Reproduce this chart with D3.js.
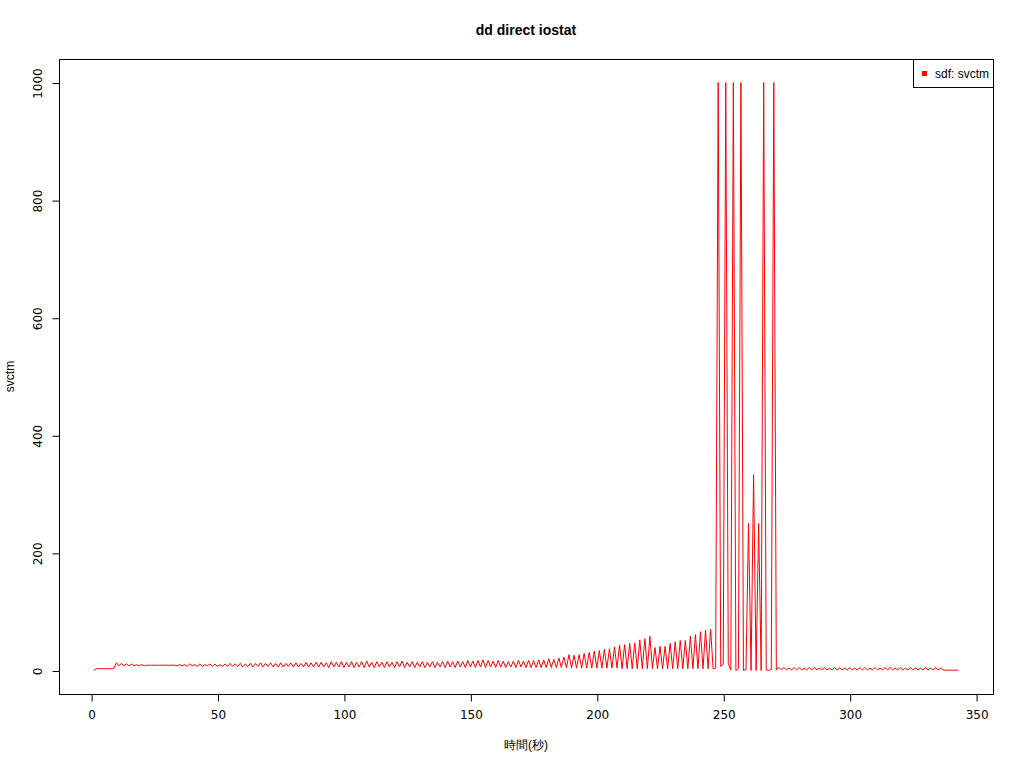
<!DOCTYPE html>
<html>
<head>
<meta charset="utf-8">
<script src="https://cdn.jsdelivr.net/npm/d3@7"></script>
<style>
  html, body { margin: 0; padding: 0; background: #fff; }
  svg { display: block; font-family: "Liberation Sans", Arial, sans-serif; }
</style>
</head>
<body>
<svg id="chart" width="1024" height="768"></svg>
<script>
// ---- data (seconds start at 1, one value per second) ----
const startSecond = 1;
const segStart = [0,3,3,3,3,3,3,3,3];                       // t 1-9
const segEarly = [13,8,12,8,11,8,11,8,10,8,10,8];           // t 10-21
const segFlat  = [9,9,8.8,9,9,8.8,9,9,9,8.8,9,9];           // t 22-33
const segLow   = [8,10,8,10,7,11,8,10,7,11,7,10,8,11,7,11,7,10,7,11,7,12,7,11,7,12,6,11,7,12,6,12,7,13,6,12,7,13,6,12,6,13,6,12,7,13,6,13,6,12,6,14,6,13,6,14]; // t 34-89
const segMid   = [6,14,6,13,5,15,6,14,6,15,5,14,6,15,5,14,6,15,5,16,6,14,5,15,6,14,5,15,6,14,5,15,6,16,5,14,6,15,5,14,6,15,5,14,6,15,5,14,6,15,5,16,6,15,5,16,6,15,5,17,6,16,5,17,6,18,5,17,6,16,5,17,6,16,5,15,6,16,5,17,6,16,5,17,5,17,5,18,5]; // t 90-178
const segRise  = [18,5,20,5,19,5,21,5,23,5,27,4,26,4,27,4,29,4,31,4,33,4,34,4,36,4,37,4,40,4,43,3,44,3,46,3,47,3,52,3,54,3,58,3,39,3,41,3,41,3,46,3,49,3,51,3,51,3,58,3,61,3,66,3,69,3,70,3,4]; // t 179-247
const segSpike = [1000,7,10,1000,12,1,1000,0,3,1000,0,2,250,0,333,0,250,0,1000,1,0,2,1000,1,5]; // t 248-272
const segTail  = [1,5,1,4,1,5,1,5,1,4, 1,5,1,5,1,4,1,5,1,4, 1,5,1,5,1,4,1,5,1,4, 1,5,1,5,1,4,1,5,1,4, 1,5,1,5,1,4,1,5,1,4, 1,5,1,5,1,4,1,5,1,4, 1,5,1,4,1]; // t 273-337
const segEnd   = [0.5,0.5,0.5,0.5,0.5,0.5];                 // t 338-343
const svctm = [].concat(segStart, segEarly, segFlat, segLow, segMid, segRise, segSpike, segTail, segEnd);

const xTicks = [0,50,100,150,200,250,300,350];
const yTicks = [0,200,400,600,800,1000];
const title = "dd direct iostat";
const xLabel = "時間(秒)";
const yLabel = "svctm";
const legendLabel = "sdf: svctm";

// ---- layout ----
const svg = d3.select("#chart");
const L = 59, R = 993, T = 59, B = 694;
const tickFont = "DejaVu Sans, sans-serif";

const xMin = startSecond, xMax = startSecond + svctm.length - 1;
const xPad = (xMax - xMin) * 0.04;
const yMaxV = d3.max(svctm), yMinV = d3.min(svctm);
const yPad = (yMaxV - yMinV) * 0.04;

const x = d3.scaleLinear().domain([xMin - xPad, xMax + xPad]).range([L, R]);
const y = d3.scaleLinear().domain([yMinV - yPad, yMaxV + yPad]).range([B, T]);

// data line
const line = d3.line()
  .x((d, i) => x(startSecond + i))
  .y(d => y(d));
svg.append("path")
  .datum(svctm)
  .attr("d", line)
  .attr("fill", "none")
  .attr("stroke", "#ff0000")
  .attr("stroke-width", 1);

// box
svg.append("rect")
  .attr("x", L + 0.5).attr("y", T + 0.5)
  .attr("width", R - L).attr("height", B - T)
  .attr("fill", "none").attr("stroke", "#000").attr("stroke-width", 1);

// x axis
const xAxis = d3.axisBottom(x).tickValues(xTicks).tickSize(7).tickPadding(9).tickFormat(d3.format("d"));
const gx = svg.append("g").attr("transform", `translate(0.5,${B + 0.5})`).call(xAxis);
gx.select(".domain").attr("d", `M${x(xTicks[0])},0H${x(xTicks[xTicks.length-1])}`);
gx.selectAll("text").attr("font-size", 12).attr("font-family", tickFont).attr("fill", "#000");
gx.selectAll("line, path").attr("stroke", "#000");

// y axis
const yAxis = d3.axisLeft(y).tickValues(yTicks).tickSize(7).tickPadding(0).tickFormat(d3.format("d"));
const gy = svg.append("g").attr("transform", `translate(${L + 0.5},0.5)`).call(yAxis);
gy.select(".domain").attr("d", `M0,${y(yTicks[0])}V${y(yTicks[yTicks.length-1])}`);
gy.selectAll("line, path").attr("stroke", "#000");
gy.selectAll("text")
  .attr("font-size", 12)
  .attr("font-family", tickFont)
  .attr("fill", "#000")
  .attr("x", null)
  .attr("text-anchor", "middle")
  .attr("transform", "translate(-21.5,0) rotate(-90)")
  .attr("dy", "0.35em");

// title
svg.append("text")
  .attr("x", (L + R) / 2).attr("y", 35)
  .attr("text-anchor", "middle")
  .attr("font-size", 14).attr("font-weight", "bold")
  .text(title);

// axis labels
svg.append("text")
  .attr("x", (L + R) / 2).attr("y", 749)
  .attr("text-anchor", "middle")
  .attr("font-size", 12)
  .text(xLabel);
svg.append("text")
  .attr("transform", `translate(14,${(T + B) / 2}) rotate(-90)`)
  .attr("text-anchor", "middle")
  .attr("font-size", 12)
  .text(yLabel);

// legend
const lg = svg.append("g");
lg.append("rect")
  .attr("x", 913.5).attr("y", T + 0.5)
  .attr("width", R - 913).attr("height", 28)
  .attr("fill", "#fff").attr("stroke", "#000");
lg.append("rect")
  .attr("x", 922).attr("y", 71)
  .attr("width", 5).attr("height", 5)
  .attr("fill", "#ff0000");
lg.append("text")
  .attr("x", 935).attr("y", 78)
  .attr("font-size", 12)
  .text(legendLabel);
</script>
</body>
</html>
